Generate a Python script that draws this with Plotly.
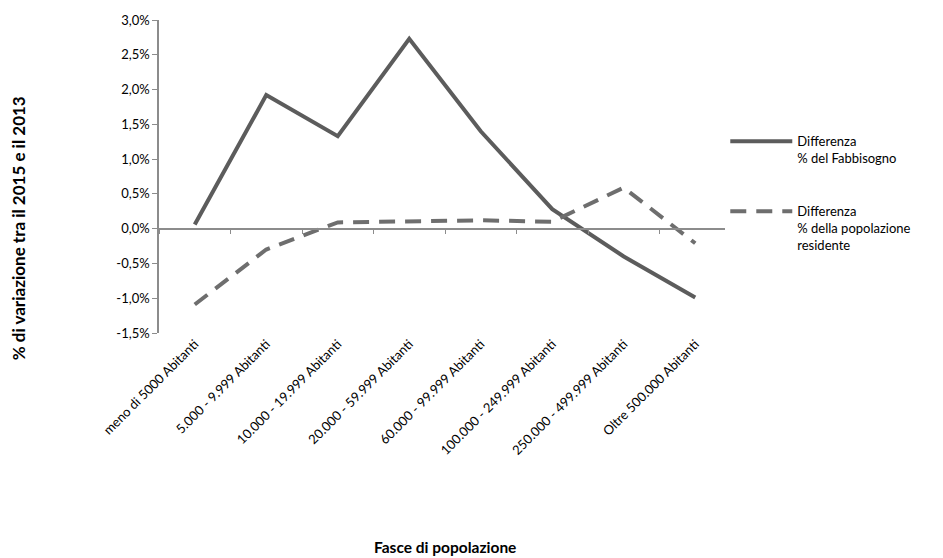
import plotly.graph_objects as go

categories = ["meno di 5000 Abitanti", "5.000 - 9.999 Abitanti", "10.000 - 19.999 Abitanti",
              "20.000 - 59.999 Abitanti", "60.000 - 99.999 Abitanti", "100.000 - 249.999 Abitanti",
              "250.000 - 499.999 Abitanti", "Oltre 500.000 Abitanti"]
fabbisogno = [0.06, 1.92, 1.33, 2.73, 1.40, 0.28, -0.40, -0.99]
popolazione = [-1.09, -0.30, 0.09, 0.11, 0.12, 0.10, 0.59, -0.21]
y_ticks = [-1.5, -1.0, -0.5, 0.0, 0.5, 1.0, 1.5, 2.0, 2.5, 3.0]
y_tick_labels = ["-1,5%", "-1,0%", "-0,5%", "0,0%", "0,5%", "1,0%", "1,5%", "2,0%", "2,5%", "3,0%"]

FONT = "Lato"
LINE_COLOR = "#5c5c5c"
AXIS_COLOR = "#8c8c8c"
NB = "\u00a0"

fig = go.Figure()
fig.add_trace(go.Scatter(
    x=categories, y=fabbisogno, mode="lines",
    name="Differenza<br>" + "% del Fabbisogno", legendgroup="a",
    line=dict(color=LINE_COLOR, width=4),
))
fig.add_trace(go.Scatter(
    x=categories, y=popolazione, mode="lines",
    name="Differenza<br>" + "% della popolazione<br>residente", legendgroup="b",
    line=dict(color="#6e6e6e", width=4, dash="16px,10px"),
))
# helper trace for the zero-positioned axis carrying boundary ticks
fig.add_trace(go.Scatter(
    x=categories, y=fabbisogno, xaxis="x2", mode="markers",
    marker=dict(opacity=0), showlegend=False, hoverinfo="skip",
))

ymin, ymax = -1.5, 3.0
zero_pos = (0 - ymin) / (ymax - ymin)

fig.update_layout(
    width=943, height=558,
    margin=dict(l=159, r=212, t=20, b=225, autoexpand=False),
    paper_bgcolor="white", plot_bgcolor="white",
    font=dict(family=FONT, size=13, color="#000000"),
    showlegend=True,
    legend=dict(x=0.99, y=0.66, xanchor="left", yanchor="top",
                valign="top", tracegroupgap=33,
                font=dict(family=FONT, size=13, color="#000000"),
                itemwidth=62),
    xaxis=dict(
        type="category", categoryorder="array", categoryarray=categories,
        showline=False, showgrid=False, ticks="", zeroline=False,
        tickangle=-45, tickfont=dict(family=FONT, size=13, color="#000000"),
        range=[-0.5, 7.5], automargin=False,
    ),
    xaxis2=dict(
        type="category", categoryorder="array", categoryarray=categories,
        overlaying="x", anchor="free", position=zero_pos,
        showline=True, linecolor=AXIS_COLOR, linewidth=1.5,
        ticks="outside", ticklen=5, tickcolor=AXIS_COLOR, tickson="boundaries",
        showticklabels=False, showgrid=False, zeroline=False,
        range=[-0.5, 7.5], domain=[0, 1],
    ),
    yaxis=dict(
        range=[ymin, ymax], tickmode="array", tickvals=y_ticks, ticktext=y_tick_labels,
        showline=True, linecolor=AXIS_COLOR, linewidth=1.5,
        ticks="outside", ticklen=5, tickcolor=AXIS_COLOR,
        showgrid=False, zeroline=False, automargin=False,
        tickfont=dict(family=FONT, size=13, color="#000000"),
    ),
    annotations=[
        dict(text="<b>% di variazione tra il 2015 e il 2013</b>", xref="paper", yref="paper",
             x=-0.246, y=(333 - 228) / 313, xanchor="center", yanchor="middle", textangle=-90,
             showarrow=False, font=dict(family=FONT, size=17, color="#000000")),
        dict(text="<b>Fasce di popolazione</b>", xref="paper", yref="paper",
             x=0.5, y=(333 - 547) / 313, xanchor="center", yanchor="middle",
             showarrow=False, font=dict(family=FONT, size=15.5, color="#000000")),
    ],
)

fig.write_html("out.html", config={"displayModeBar": False})

# remove default page margin so the figure sits at the window's top-left corner
with open("out.html", "r", encoding="utf-8") as f:
    html = f.read()
html = html.replace("<head>", "<head><style>html,body{margin:0;padding:0;overflow:hidden;}</style>", 1)
with open("out.html", "w", encoding="utf-8") as f:
    f.write(html)
